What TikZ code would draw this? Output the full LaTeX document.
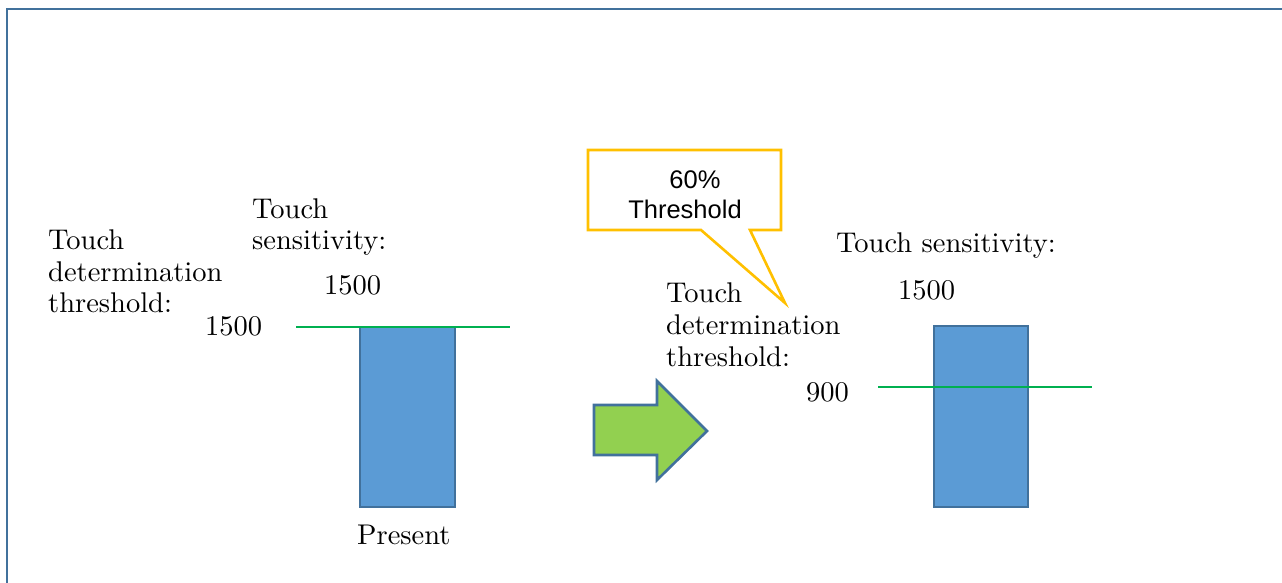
\documentclass[tikz,border=0pt]{standalone}
\usepackage{fontspec}
\newfontfamily\calloutfont{Liberation Sans}
\newfontfamily\lblfont{lmroman10-regular.otf}
\definecolor{framec}{HTML}{41719C}
\definecolor{barfill}{HTML}{5B9BD5}
\definecolor{barline}{HTML}{41719C}
\definecolor{arrowfill}{HTML}{92D050}
\definecolor{calloutc}{HTML}{FFC000}
\definecolor{threshc}{HTML}{00B050}
\tikzset{
  lbl/.style={anchor=base west, inner sep=0pt, font=\lblfont\fontsize{28.5}{32}\selectfont},
  ctext/.style={anchor=base, inner sep=0pt, font=\calloutfont\fontsize{25.5}{30}\selectfont},
  bar/.style={draw=barline, fill=barfill, line width=2.6pt},
  thline/.style={draw=threshc, line width=1.6pt},
}
\begin{document}
\begin{tikzpicture}[x=1pt,y=-1pt]
\useasboundingbox (0,0) rectangle (1282,583);
% frame
\draw[framec, line width=2.6pt] (7,583) -- (7,9) -- (1282,9);

% bars
\path[bar] (360,327) rectangle (455,507);
\path[bar] (934,326) rectangle (1028,507);
\coordinate (l1) at (296,327); \coordinate (l2) at (510,327);
\coordinate (r1) at (878,387); \coordinate (r2) at (1092,387);
\draw[thline] (l1) -- (l2);
\draw[thline] (r1) -- (r2);

% block arrow
\draw[barline, fill=arrowfill, line width=2.6pt, line join=miter]
  (594,405) -- (657,405) -- (657,381) -- (707,431) -- (657,480) -- (657,455) -- (594,455) -- cycle;

% callout
\draw[calloutc, fill=white, line width=2.6pt, line join=miter]
  (588,150) -- (781,150) -- (781,230) -- (750,230) -- (785,303) -- (701,230) -- (588,230) -- cycle;
\node[ctext] (c1) at (695,188) {60\%};
\node[ctext] (c2) at (685,218) {Threshold};

% left labels
\node[lbl] (a1) at (48,249) {Touch};
\node[lbl] (a2) at (48,281) {determination};
\node[lbl] (a3) at (48,312) {threshold:};
\node[lbl] (a4) at (205,335) {1500};
\node[lbl] (b1) at (252,218) {Touch};
\node[lbl] (b2) at (252,249) {sensitivity:};
\node[lbl] (b3) at (324,294) {1500};
\node[lbl] (p) at (357,544) {Present};

% right labels
\node[lbl] (m1) at (666,302) {Touch};
\node[lbl] (m2) at (666,334) {determination};
\node[lbl] (m3) at (666,366) {threshold:};
\node[lbl] (m4) at (806,401) {900};
\node[lbl] (s1) at (836,252) {Touch sensitivity:};
\node[lbl] (s2) at (898,299) {1500};
\end{tikzpicture}
\end{document}
